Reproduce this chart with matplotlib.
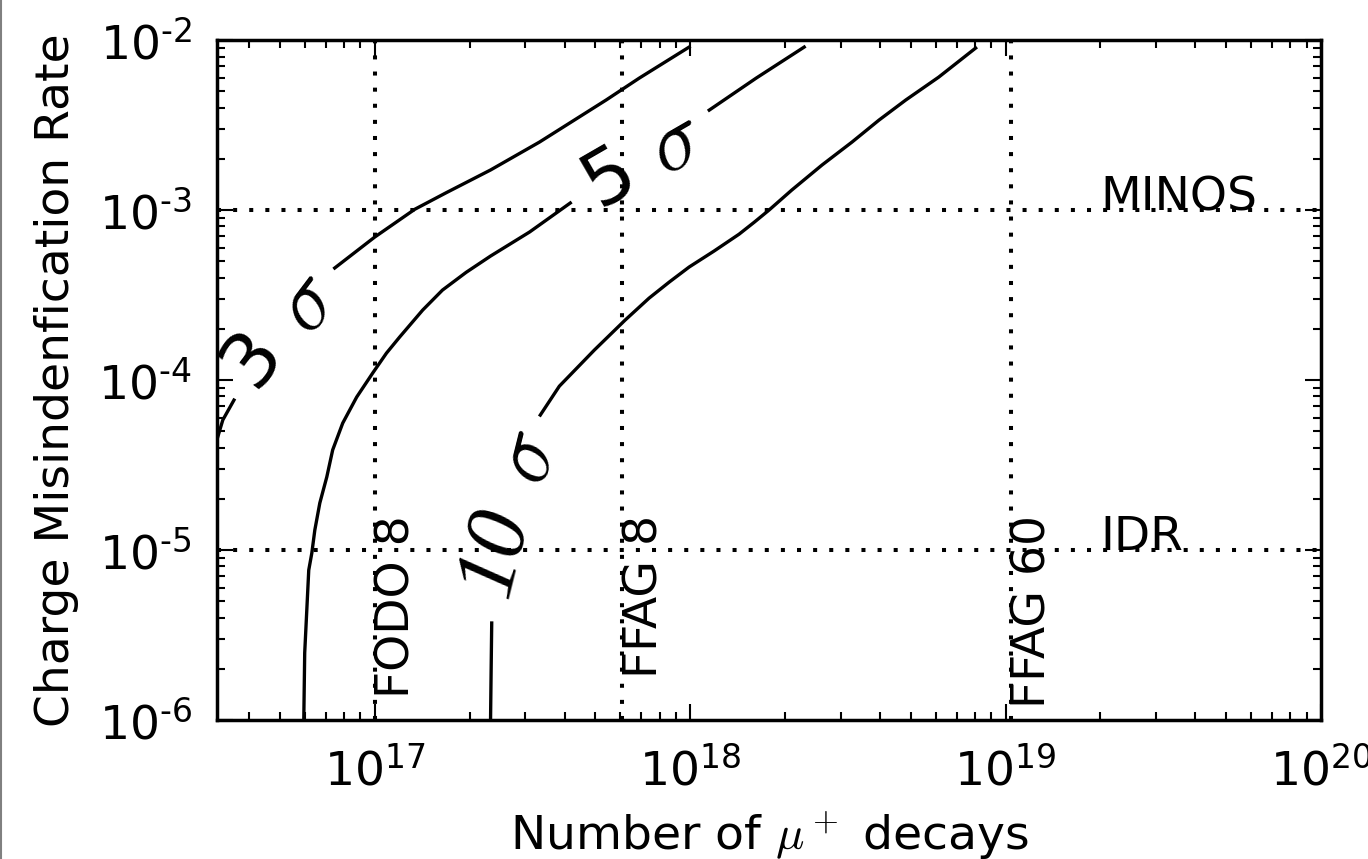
import math
import matplotlib
matplotlib.use("Agg")
import matplotlib.pyplot as plt
from matplotlib.lines import Line2D
from matplotlib.ticker import LogLocator, FuncFormatter

# sigma contours, each split in two pieces around its inline label
x3_lo = [3.16e16, 3.30e16, 3.58e16]
y3_lo = [4.44e-5, 5.82e-5, 7.62e-5]
x3_hi = [7.47e16, 1.00e17, 1.34e17, 1.68e17, 2.33e17, 3.33e17, 5.42e17, 6.90e17, 9.93e17]
y3_hi = [4.56e-4, 6.93e-4, 1.01e-3, 1.26e-3, 1.72e-3, 2.51e-3, 4.44e-3, 5.97e-3, 9.09e-3]

x5_lo = [5.96e16, 6.00e16, 6.18e16, 6.32e16, 6.46e16, 6.70e16, 7.05e16, 7.36e16, 7.92e16,
         8.77e16, 9.86e16, 1.09e17, 1.20e17, 1.42e17, 1.64e17, 1.95e17, 2.33e17, 3.10e17, 4.17e17]
y5_lo = [1.0e-6, 2.48e-6, 7.62e-6, 9.59e-6, 1.31e-5, 1.89e-5, 2.69e-5, 3.88e-5, 5.58e-5,
         7.94e-5, 1.10e-4, 1.44e-4, 1.79e-4, 2.58e-4, 3.38e-4, 4.30e-4, 5.36e-4, 7.43e-4, 1.10e-3]
x5_hi = [1.15e18, 1.62e18, 2.30e18]
y5_hi = [3.87e-3, 5.97e-3, 9.09e-3]

x10_lo = [2.33e17, 2.34e17, 2.35e17]
y10_lo = [1.0e-6, 1.97e-6, 3.72e-6]
x10_hi = [3.35e17, 3.85e17, 4.97e17, 6.22e17, 7.41e17, 8.59e17, 9.93e17, 1.19e18, 1.43e18,
          1.60e18, 1.78e18, 2.10e18, 2.62e18, 3.26e18, 3.97e18, 4.83e18, 6.14e18, 8.04e18]
y10_hi = [6.22e-5, 9.20e-5, 1.50e-4, 2.25e-4, 3.03e-4, 3.77e-4, 4.62e-4, 5.73e-4, 7.21e-4,
          8.50e-4, 1.0e-3, 1.31e-3, 1.84e-3, 2.51e-3, 3.38e-3, 4.44e-3, 6.05e-3, 8.97e-3]

# reference lines
machine_names = ["FODO 8", "FFAG 8", "FFAG 60"]
machine_decays = [1.0e17, 6.1e17, 1.04e19]
rate_names = ["MINOS", "IDR"]
rate_values = [1e-3, 1e-5]

# inline labels: number and sigma placed separately (x, y), plus rotation
sigma_labels = [
    ("3", (4.08e16, 1.35e-4), (6.10e16, 2.84e-4), 53),
    ("5", (5.55e17, 1.54e-3), (9.04e17, 2.48e-3), 30),
    ("10", (2.43e17, 9.73e-6), (3.05e17, 3.52e-5), 76),
]

plt.rcParams["font.family"] = "DejaVu Sans"
plt.rcParams["mathtext.fontset"] = "dejavusans"

fig = plt.figure(figsize=(13.68, 8.59), dpi=100)
ax = fig.add_axes([0.1586, 0.1618, 0.8070, 0.7916])
ax.set_xscale("log")
ax.set_yscale("log")

dots = (0, (1, 3))
for xv in machine_decays:
    ax.axvline(xv, color="black", lw=2.9, linestyle=dots)
for yv in rate_values:
    ax.axhline(yv, color="black", lw=2.9, linestyle=dots)

for xs, ys in [(x3_lo, y3_lo), (x3_hi, y3_hi), (x5_lo, y5_lo), (x5_hi, y5_hi),
               (x10_lo, y10_lo), (x10_hi, y10_hi)]:
    ax.plot(xs, ys, color="black", lw=2.4, solid_joinstyle="round")

for num, pnum, psig, rot in sigma_labels:
    if num == "10":
        ax.text(pnum[0], pnum[1], num, fontsize=62, rotation=rot, rotation_mode="anchor",
                ha="center", va="center", family="Liberation Serif", style="italic")
    else:
        ax.text(pnum[0], pnum[1], num, fontsize=55, rotation=rot, rotation_mode="anchor",
                ha="center", va="center")
    ax.text(psig[0], psig[1], r"$\sigma$", fontsize=62, rotation=rot, rotation_mode="anchor",
            ha="center", va="center", math_fontfamily="cm")

for name, xv in zip(machine_names, machine_decays):
    ax.text(xv, 1.6e-5, name, fontsize=34, rotation=90, ha="left", va="top")
for name, yv in zip(rate_names, rate_values):
    ax.text(2.0e19, yv, name, fontsize=34, ha="left", va="baseline")

ax.set_xlim(10**16.5, 1e20)
ax.set_ylim(1e-6, 1e-2)

ax.xaxis.set_major_locator(LogLocator(base=10, numticks=10))
ax.yaxis.set_major_locator(LogLocator(base=10, numticks=10))
ax.xaxis.set_major_formatter(FuncFormatter(lambda v, p: r"$10^{%d}$" % round(math.log10(v))))
ax.yaxis.set_major_formatter(FuncFormatter(lambda v, p: r"$10^{\text{-%d}}$" % round(-math.log10(v))))

ax.tick_params(which="both", direction="in", top=True, right=True, width=1.5, labelsize=34)
ax.tick_params(which="major", length=11.5)
ax.tick_params(which="minor", length=5.8)
ax.tick_params(axis="x", pad=20)
ax.tick_params(axis="y", pad=18)
for sp in ax.spines.values():
    sp.set_linewidth(2.5)

ax.set_xlabel(r"Number of $\mu^+$ decays", fontsize=34, labelpad=10, math_fontfamily="cm")
ax.set_ylabel("Charge Misindenfication Rate", fontsize=34, labelpad=14)

fig.add_artist(Line2D([0.001, 0.001], [0, 1], color="gray", lw=1.5))

fig.savefig("out.png", dpi=100)
